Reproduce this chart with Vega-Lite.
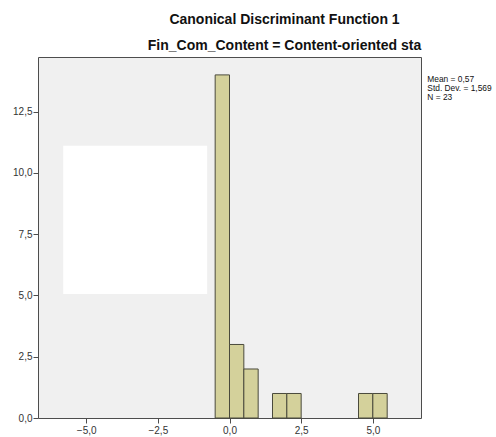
{
  "$schema": "https://vega.github.io/schema/vega-lite/v6.json",
  "autosize": "none",
  "width": 383,
  "height": 361,
  "padding": {"left": 38, "top": 57, "right": 75, "bottom": 19},
  "background": "white",
  "config": {
    "font": "Liberation Sans",
    "view": {"fill": "#f0f0f0", "stroke": "#4d4d4d", "strokeWidth": 1},
    "axis": {
      "domain": false,
      "grid": false,
      "ticks": true,
      "tickColor": "#4d4d4d",
      "tickSize": 5,
      "labelFont": "Liberation Sans",
      "labelFontSize": 10,
      "labelColor": "#333333",
      "title": null
    }
  },
  "title": {
    "text": "Canonical Discriminant Function 1",
    "subtitle": "Fin_Com_Content = Content-oriented sta",
    "anchor": "middle",
    "dx": 55,
    "font": "Liberation Sans",
    "fontSize": 14,
    "fontWeight": "bold",
    "color": "#111111",
    "subtitleFont": "Liberation Sans",
    "subtitleFontSize": 14,
    "subtitleFontWeight": "bold",
    "subtitleColor": "#111111",
    "subtitlePadding": 12,
    "offset": 4
  },
  "data": {
    "values": [
      {"bin_start": -0.5, "bin_end": 0.0, "count": 14},
      {"bin_start": 0.0, "bin_end": 0.5, "count": 3},
      {"bin_start": 0.5, "bin_end": 1.0, "count": 2},
      {"bin_start": 1.5, "bin_end": 2.0, "count": 1},
      {"bin_start": 2.0, "bin_end": 2.5, "count": 1},
      {"bin_start": 4.5, "bin_end": 5.0, "count": 1},
      {"bin_start": 5.0, "bin_end": 5.5, "count": 1}
    ]
  },
  "layer": [
    {
      "mark": {"type": "rect", "fill": "#d4d19b", "stroke": "#4a4a3c", "strokeWidth": 1},
      "encoding": {
        "x": {
          "field": "bin_start",
          "type": "quantitative",
          "scale": {"domain": [-6.68, 6.68], "nice": false, "zero": false},
          "axis": {
            "values": [-5, -2.5, 0, 2.5, 5],
            "labelExpr": "replace(format(datum.value, '.1f'), '.', ',')",
            "labelPadding": 2
          }
        },
        "x2": {"field": "bin_end"},
        "y": {
          "field": "count",
          "type": "quantitative",
          "scale": {"domain": [0, 14.73], "nice": false},
          "axis": {
            "values": [0, 2.5, 5, 7.5, 10, 12.5],
            "labelExpr": "replace(format(datum.value, '.1f'), '.', ',')",
            "labelPadding": 1
          }
        },
        "y2": {"datum": 0}
      }
    },
    {
      "data": {"values": [{}]},
      "mark": {"type": "rect", "fill": "white", "stroke": null},
      "encoding": {
        "x": {"datum": -5.8, "type": "quantitative"},
        "x2": {"datum": -0.78},
        "y": {"datum": 11.11, "type": "quantitative"},
        "y2": {"datum": 5.06}
      }
    },
    {
      "data": {"values": [{}]},
      "mark": {
        "type": "text",
        "align": "left",
        "baseline": "top",
        "fontSize": 8.4,
        "lineHeight": 8.6,
        "color": "#111111",
        "clip": false,
        "lineBreak": "\n",
        "text": "Mean = 0,57\nStd. Dev. = 1,569\nN = 23"
      },
      "encoding": {
        "x": {"datum": 6.9, "type": "quantitative"},
        "y": {"datum": 13.98, "type": "quantitative"}
      }
    }
  ]
}
